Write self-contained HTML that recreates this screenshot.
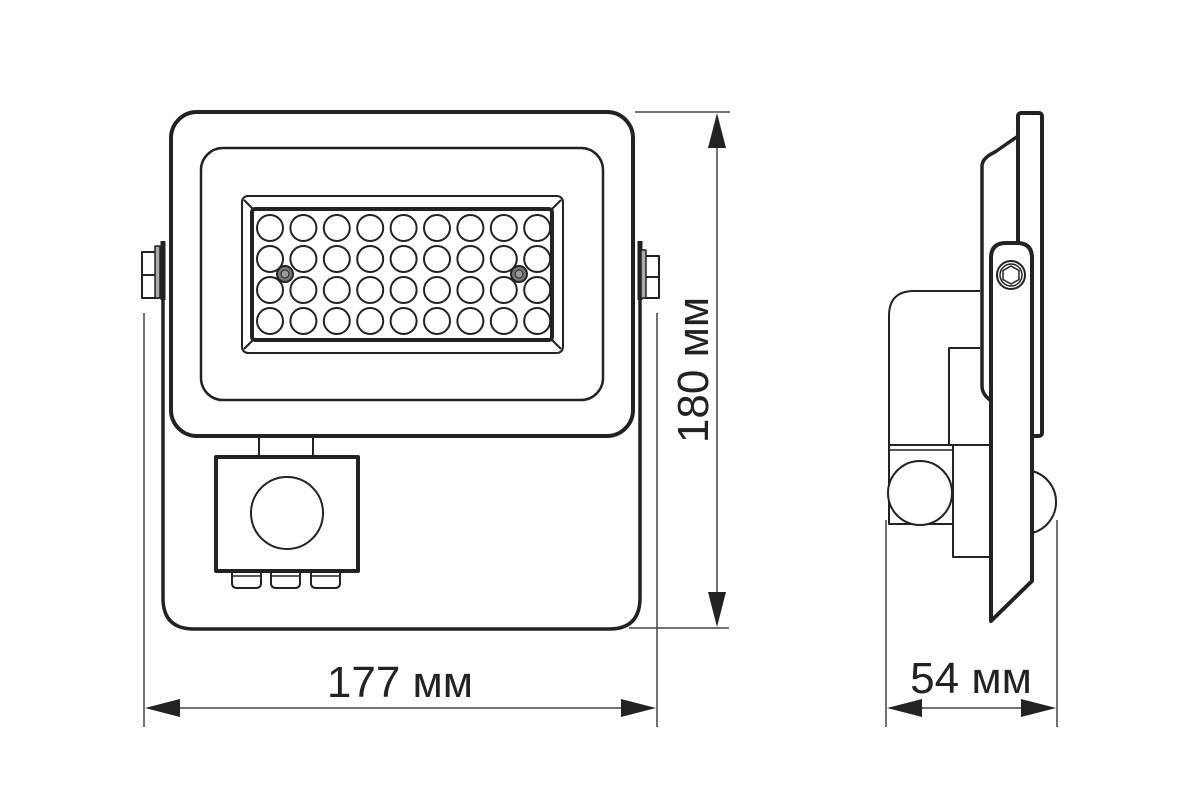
<!DOCTYPE html>
<html><head><meta charset="utf-8"><style>html,body{margin:0;padding:0;background:#fff}svg{display:block}</style></head>
<body>
<svg width="1200" height="800" viewBox="0 0 1200 800" xmlns="http://www.w3.org/2000/svg">
<g fill="none" stroke="#222" stroke-linejoin="round">
<path d="M163 241 L163 598 Q163 629 194 629 L609 629 Q640 629 640 598 L640 241" stroke-width="3.5"/>
<rect x="171" y="112" width="462" height="324" rx="26" fill="#fff" stroke-width="4"/>
<rect x="201" y="148" width="402" height="252" rx="22" stroke-width="2.5"/>
<rect x="242" y="196" width="321" height="157" rx="6" stroke-width="2"/>
<rect x="252" y="209" width="300" height="131" rx="3" stroke-width="4"/>
<line x1="244" y1="200" x2="254" y2="210" stroke-width="2"/>
<line x1="561" y1="200" x2="551" y2="210" stroke-width="2"/>
<line x1="244" y1="349" x2="254" y2="339" stroke-width="2"/>
<line x1="561" y1="349" x2="551" y2="339" stroke-width="2"/>
<g stroke-width="2">
<g id="row">
<circle cx="270" cy="228" r="13"/><circle cx="303.4" cy="228" r="13"/><circle cx="336.8" cy="228" r="13"/><circle cx="370.2" cy="228" r="13"/><circle cx="403.6" cy="228" r="13"/><circle cx="437" cy="228" r="13"/><circle cx="470.4" cy="228" r="13"/><circle cx="503.8" cy="228" r="13"/><circle cx="537.2" cy="228" r="13"/>
</g>
<use href="#row" y="31"/><use href="#row" y="62"/><use href="#row" y="93"/>
</g>
<circle cx="285" cy="274" r="8" fill="#777" stroke-width="2"/>
<circle cx="285" cy="274" r="4" fill="#999" stroke-width="1"/>
<circle cx="519" cy="274" r="8" fill="#777" stroke-width="2"/>
<circle cx="519" cy="274" r="4" fill="#999" stroke-width="1"/>
<line x1="163" y1="241" x2="163" y2="300" stroke-width="5"/>
<rect x="142" y="252" width="16" height="46" stroke-width="2"/>
<line x1="142" y1="275" x2="158" y2="275" stroke-width="2"/>
<rect x="155" y="246" width="5" height="52" stroke-width="1.5" fill="#aaa"/>
<line x1="640" y1="241" x2="640" y2="300" stroke-width="5"/>
<rect x="644" y="256" width="15" height="42" stroke-width="2"/>
<line x1="644" y1="277" x2="659" y2="277" stroke-width="2"/>
<rect x="641" y="250" width="5" height="48" stroke-width="1.5" fill="#aaa"/>
<line x1="259" y1="436" x2="259" y2="457" stroke-width="2"/>
<line x1="313" y1="436" x2="313" y2="457" stroke-width="2"/>
<path d="M232 571 v12 q0 5 5 5 h19 q5 0 5 -5 v-12 M271 571 v12 q0 5 5 5 h19 q5 0 5 -5 v-12 M311 571 v12 q0 5 5 5 h19 q5 0 5 -5 v-12" stroke-width="2"/>
<path d="M233 576 h27 M272 576 h27 M312 576 h27" stroke-width="1.5"/>
<rect x="216" y="457" width="142" height="114" stroke-width="4"/>
<circle cx="287" cy="513" r="36" stroke-width="2"/>
<g stroke="#444" stroke-width="1.5">
<line x1="144" y1="313" x2="144" y2="727"/>
<line x1="657" y1="313" x2="657" y2="727"/>
<line x1="150" y1="708" x2="650" y2="708"/>
<line x1="635" y1="112" x2="730" y2="112"/>
<line x1="629" y1="628" x2="729" y2="628"/>
<line x1="717" y1="120" x2="717" y2="620"/>
<line x1="886" y1="520" x2="886" y2="727"/>
<line x1="1057" y1="520" x2="1057" y2="727"/>
<line x1="890" y1="708" x2="1053" y2="708"/>
</g>
</g>
<g fill="#222">
<polygon points="145,708 180,699 180,717"/>
<polygon points="656,708 621,699 621,717"/>
<polygon points="717,113 708,148 726,148"/>
<polygon points="717,627 708,592 726,592"/>
<polygon points="887,708 922,699 922,717"/>
<polygon points="1056,708 1021,699 1021,717"/>
</g>
<g fill="none" stroke="#222" stroke-linejoin="round">
<path d="M1018 136 L995 152 Q982 158 982 166 L982 386 Q982 394 990 400" stroke-width="3.5"/>
<rect x="1018" y="113" width="24" height="323" rx="3" fill="#fff" stroke-width="4"/>
<path d="M980 291 L914 291 Q889 291 889 316 L889 445 L980 445" stroke-width="2"/>
<path d="M980 348 L949 348 L949 445" stroke-width="2"/>
<rect x="889" y="445" width="64" height="79" stroke-width="2"/>
<line x1="889" y1="450" x2="953" y2="450" stroke-width="1.5"/>
<circle cx="920" cy="493" r="32" fill="#fff" stroke-width="2"/>
<rect x="953" y="445" width="38" height="112" fill="#fff" stroke-width="2"/>
<path d="M1032 471 A32 32 0 0 1 1032 533" stroke-width="2"/>
<path d="M991 258 Q991 243 1006 243 L1017 243 Q1032 243 1032 258 L1032 581 L991 621 Z" fill="#fff" stroke-width="4"/>
<circle cx="1011" cy="275" r="14" stroke-width="2"/>
<circle cx="1011" cy="275" r="11" stroke-width="1.5"/>
<polygon points="1011,266 1019,270.5 1019,279.5 1011,284 1003,279.5 1003,270.5" stroke-width="1.5"/>
</g>
<g font-family="Liberation Sans, sans-serif" font-size="44" fill="#222">
<text x="400" y="697" text-anchor="middle">177 мм</text>
<text x="971" y="693" text-anchor="middle">54 мм</text>
<text transform="translate(708,370) rotate(-90)" text-anchor="middle">180 мм</text>
</g>
</svg>
</body></html>
